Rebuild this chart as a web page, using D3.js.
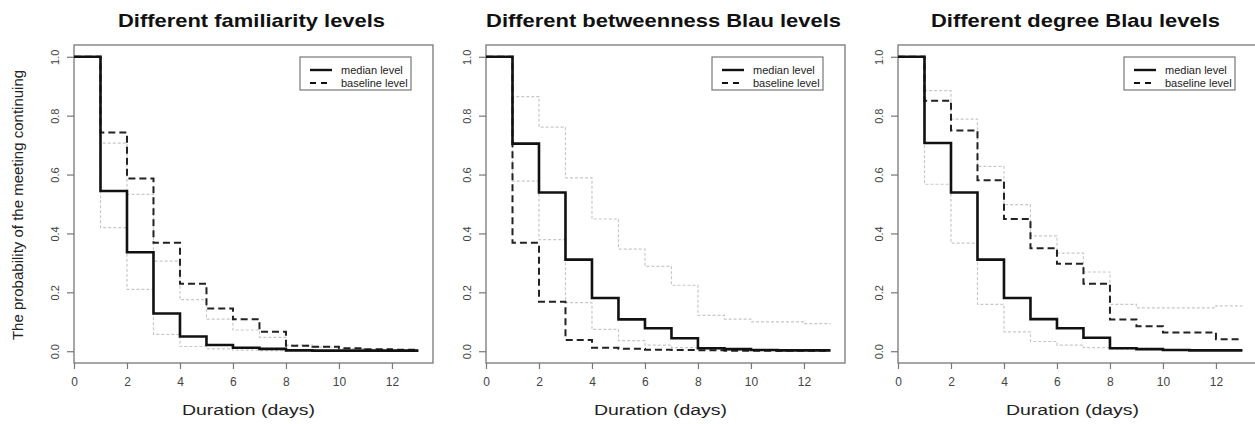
<!DOCTYPE html>
<html>
<head>
<meta charset="utf-8">
<script src="https://cdn.jsdelivr.net/npm/d3@7"></script>
<style>
  body { margin: 0; background: #fff; }
  svg { display: block; font-family: "Liberation Sans", Arial, sans-serif; }
</style>
</head>
<body>
<script>
// days 0..13, value holds from day i to day i+1
const days = d3.range(0, 14);
const xTicks = [0, 2, 4, 6, 8, 10, 12];
const yTicks = [0, 0.2, 0.4, 0.6, 0.8, 1.0];
const titles = [
  "Different familiarity levels",
  "Different betweenness Blau levels",
  "Different degree Blau levels"
];
const legendLabels = ["median level", "baseline level"];

// panel 1: familiarity
const famMedian   = [1, 0.544, 0.336, 0.128, 0.050, 0.021, 0.012, 0.008, 0.003, 0.002, 0.002, 0.002, 0.002, 0.002];
const famBaseline = [1, 0.743, 0.587, 0.368, 0.229, 0.145, 0.109, 0.066, 0.019, 0.015, 0.010, 0.007, 0.005, 0.005];
const famUpper    = [1, 0.707, 0.533, 0.306, 0.175, 0.109, 0.072, 0.047, 0.021, 0.014, 0.009, 0.006, 0.004, 0.004];
const famLower    = [1, 0.420, 0.210, 0.057, 0.016, 0.008, 0.004, 0.002, 0.001, 0.001, 0.001, 0.001, 0.001, 0.001];

// panel 2: betweenness Blau
const betMedian   = [1, 0.705, 0.539, 0.311, 0.181, 0.108, 0.078, 0.044, 0.010, 0.007, 0.004, 0.003, 0.003, 0.003];
const betBaseline = [1, 0.368, 0.168, 0.038, 0.012, 0.008, 0.005, 0.004, 0.003, 0.002, 0.002, 0.002, 0.002, 0.002];
const betUpper    = [1, 0.865, 0.761, 0.589, 0.449, 0.347, 0.288, 0.224, 0.122, 0.109, 0.100, 0.100, 0.094, 0.094];
const betLower    = [1, 0.578, 0.379, 0.165, 0.074, 0.036, 0.021, 0.012, 0.007, 0.004, 0.003, 0.002, 0.002, 0.002];

// panel 3: degree Blau
const degMedian   = [1, 0.707, 0.539, 0.311, 0.181, 0.109, 0.078, 0.046, 0.010, 0.007, 0.004, 0.003, 0.003, 0.003];
const degBaseline = [1, 0.851, 0.750, 0.581, 0.449, 0.350, 0.297, 0.229, 0.108, 0.085, 0.064, 0.064, 0.041, 0.041];
const degUpper    = [1, 0.885, 0.788, 0.628, 0.498, 0.392, 0.333, 0.269, 0.159, 0.147, 0.147, 0.147, 0.154, 0.154];
const degLower    = [1, 0.567, 0.367, 0.159, 0.066, 0.033, 0.021, 0.012, 0.007, 0.005, 0.004, 0.003, 0.003, 0.003];

const panels = [
  { title: titles[0], median: famMedian, baseline: famBaseline, upper: famUpper, lower: famLower },
  { title: titles[1], median: betMedian, baseline: betBaseline, upper: betUpper, lower: betLower },
  { title: titles[2], median: degMedian, baseline: degBaseline, upper: degUpper, lower: degLower }
];

const width = 1255;
const height = 424;
const panelLeft = [74, 486, 898];
const panelW = 359;
const plotTop = 45;
const plotBottom = 363;
const axisColor = "#777";

const svg = d3.select("body").append("svg")
  .attr("width", width)
  .attr("height", height);

const yScale = d3.scaleLinear().domain([-0.04, 1.04]).range([plotBottom, plotTop]);

panels.forEach((p, k) => {
  const x0 = panelLeft[k];
  const xScale = d3.scaleLinear().domain([0, 13.55]).range([x0, x0 + panelW]);
  const g = svg.append("g");

  // box
  g.append("rect")
    .attr("x", x0).attr("y", plotTop)
    .attr("width", panelW).attr("height", plotBottom - plotTop)
    .attr("fill", "none").attr("stroke", axisColor).attr("stroke-width", 1.3);

  // x axis
  const xAxis = g.append("g")
    .attr("transform", `translate(0,${plotBottom})`)
    .call(d3.axisBottom(xScale).tickValues(xTicks).tickSize(6).tickSizeOuter(0).tickPadding(8));
  xAxis.select(".domain").remove();
  xAxis.selectAll("line").attr("stroke", axisColor).attr("stroke-width", 1.2);
  xAxis.selectAll("text").attr("fill", "#444").style("font-size", "12px");

  // y axis
  const yAxis = g.append("g")
    .attr("transform", `translate(${x0},0)`)
    .call(d3.axisLeft(yScale).tickValues(yTicks).tickFormat(d3.format(".1f")).tickSize(7).tickSizeOuter(0));
  yAxis.select(".domain").remove();
  yAxis.selectAll("line").attr("stroke", axisColor).attr("stroke-width", 1.2);
  yAxis.selectAll("text")
    .attr("fill", "#444")
    .style("font-size", "11px")
    .attr("text-anchor", "middle")
    .attr("x", 0).attr("dy", 0)
    .attr("transform", "translate(-19,0) rotate(-90)")
    .attr("y", 4);

  const line = (vals) => d3.line()
    .x((d, i) => xScale(days[i]))
    .y((d) => yScale(d))
    .curve(d3.curveStepAfter)(vals);

  // grey reference curves
  [p.upper, p.lower].forEach((vals) => {
    g.append("path")
      .attr("d", line(vals))
      .attr("fill", "none")
      .attr("stroke", "#c8c8c8")
      .attr("stroke-width", 1.2)
      .attr("stroke-dasharray", "3,2");
  });

  g.append("path")
    .attr("d", line(p.baseline))
    .attr("fill", "none")
    .attr("stroke", "#222")
    .attr("stroke-width", 2)
    .attr("stroke-dasharray", "7,4");

  g.append("path")
    .attr("d", line(p.median))
    .attr("fill", "none")
    .attr("stroke", "#111")
    .attr("stroke-width", 2.6);

  // title (reference is stretched horizontally)
  svg.append("text")
    .attr("transform", `translate(${x0 + panelW / 2 - 2},27) scale(1.22,1)`)
    .attr("text-anchor", "middle")
    .style("font-size", "18px")
    .style("font-weight", "bold")
    .attr("fill", "#111")
    .text(p.title);

  // x title
  svg.append("text")
    .attr("transform", `translate(${x0 + panelW / 2 - 5},415) scale(1.3,1)`)
    .attr("text-anchor", "middle")
    .style("font-size", "15px")
    .attr("fill", "#222")
    .text("Duration (days)");

  // legend
  const lx = x0 + 226;
  const ly = 57;
  const lg = g.append("g");
  lg.append("rect")
    .attr("x", lx).attr("y", ly)
    .attr("width", 111).attr("height", 33)
    .attr("fill", "#fff").attr("stroke", axisColor).attr("stroke-width", 1.2);
  legendLabels.forEach((lab, i) => {
    const yy = ly + 13 + i * 13;
    lg.append("line")
      .attr("x1", lx + 10).attr("x2", lx + 32)
      .attr("y1", yy).attr("y2", yy)
      .attr("stroke", "#111")
      .attr("stroke-width", i === 0 ? 2.4 : 2)
      .attr("stroke-dasharray", i === 0 ? null : "6,5");
    lg.append("text")
      .attr("x", lx + 41).attr("y", yy + 4)
      .style("font-size", "11px")
      .attr("fill", "#222")
      .text(lab);
  });
});

// shared y title
svg.append("text")
  .attr("transform", `translate(23,${(plotTop + plotBottom) / 2 + 1}) rotate(-90)`)
  .attr("text-anchor", "middle")
  .style("font-size", "15px")
  .attr("fill", "#222")
  .text("The probability of the meeting continuing");
</script>
</body>
</html>
